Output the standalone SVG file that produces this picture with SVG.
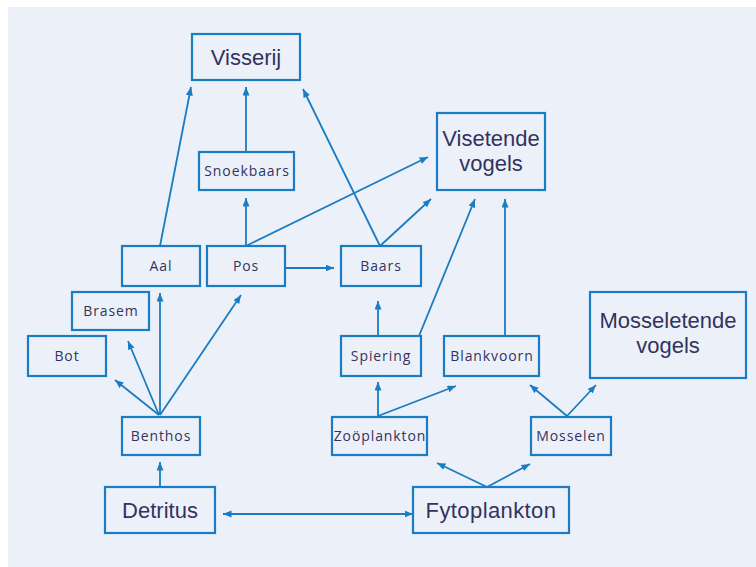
<svg xmlns="http://www.w3.org/2000/svg" width="756" height="567" viewBox="0 0 756 567">
<style>
.box{fill:none;stroke:#1b7cc2;stroke-width:2.2}
.c{fill:none;stroke:#1b7cc2;stroke-width:1.8;marker-end:url(#ah)}
.s{font-family:"Open Sans","Liberation Sans",sans-serif;font-size:14px;fill:#33335e;text-anchor:middle;letter-spacing:0.9px}
.b{font-family:"Liberation Sans",Arial,sans-serif;font-size:22px;fill:#33335e;text-anchor:middle}
</style>
<defs>
<marker id="ah" markerUnits="userSpaceOnUse" markerWidth="9" markerHeight="8" refX="8.5" refY="3.5" orient="auto-start-reverse">
<path d="M0,0 L8.5,3.5 L0,7 z" fill="#1b7cc2"/>
</marker>
</defs>
<rect x="8" y="7" width="748" height="560" fill="#ecf1f9"/>
<g id="connectors">
<path class="c" d="M160,246 L191,87"/>
<path class="c" d="M246,152 L246,87"/>
<path class="c" d="M380,246 L303,89"/>
<path class="c" d="M246,246 L246,198"/>
<path class="c" d="M246,246 L428,157"/>
<path class="c" d="M285,268 L334,268"/>
<path class="c" d="M380,246 L431,199"/>
<path class="c" d="M378,336 L378,301"/>
<path class="c" d="M419,336 L475,199"/>
<path class="c" d="M505,336 L505,199"/>
<path class="c" d="M378,417 L378,382"/>
<path class="c" d="M378,416 L456,386"/>
<path class="c" d="M567,416 L530,385"/>
<path class="c" d="M567,416 L596,385"/>
<path class="c" d="M487,487 L437,463"/>
<path class="c" d="M487,487 L530,464"/>
<path class="c" d="M223,514 L413,514" marker-start="url(#ah)"/>
<path class="c" d="M160,487 L160,462"/>
<path class="c" d="M159,415 L115,380"/>
<path class="c" d="M159,415 L128,341"/>
<path class="c" d="M160,415 L160,293"/>
<path class="c" d="M160,415 L241,295"/>
</g>
<g id="visserij"><rect class="box" x="192" y="34" width="108" height="46"/><text class="b" x="246" y="65">Visserij</text></g>
<g id="snoekbaars"><rect class="box" x="199" y="152" width="95" height="38"/><text class="s" x="247" y="176">Snoekbaars</text></g>
<g id="aal"><rect class="box" x="122" y="246" width="78" height="40"/><text class="s" x="161" y="271">Aal</text></g>
<g id="pos"><rect class="box" x="207" y="246" width="78" height="40"/><text class="s" x="246" y="271">Pos</text></g>
<g id="baars"><rect class="box" x="341" y="246" width="80" height="40"/><text class="s" x="381" y="271">Baars</text></g>
<g id="visetende-vogels"><rect class="box" x="437" y="113" width="108" height="77"/><text class="b" x="491" y="145.5">Visetende<tspan x="491" dy="25">vogels</tspan></text></g>
<g id="brasem"><rect class="box" x="72" y="292" width="77" height="38"/><text class="s" x="111" y="316">Brasem</text></g>
<g id="bot"><rect class="box" x="28" y="336" width="78" height="40"/><text class="s" x="67" y="361">Bot</text></g>
<g id="benthos"><rect class="box" x="122" y="417" width="78" height="38"/><text class="s" x="161" y="441">Benthos</text></g>
<g id="spiering"><rect class="box" x="341" y="336" width="80" height="40"/><text class="s" x="381" y="361">Spiering</text></g>
<g id="blankvoorn"><rect class="box" x="444" y="336" width="95" height="40"/><text class="s" x="492" y="361">Blankvoorn</text></g>
<g id="zooplankton"><rect class="box" x="332" y="417" width="95" height="38"/><text class="s" x="380" y="441">Zoöplankton</text></g>
<g id="mosselen"><rect class="box" x="531" y="417" width="80" height="38"/><text class="s" x="571" y="441">Mosselen</text></g>
<g id="mosseletende-vogels"><rect class="box" x="590" y="292" width="156" height="86"/><text class="b" x="668" y="327.5">Mosseletende<tspan x="668" dy="25">vogels</tspan></text></g>
<g id="detritus"><rect class="box" x="105" y="487" width="110" height="46"/><text class="b" x="160" y="518">Detritus</text></g>
<g id="fytoplankton"><rect class="box" x="413" y="487" width="156" height="46"/><text class="b" x="491" y="518" letter-spacing="0.4">Fytoplankton</text></g>
</svg>
